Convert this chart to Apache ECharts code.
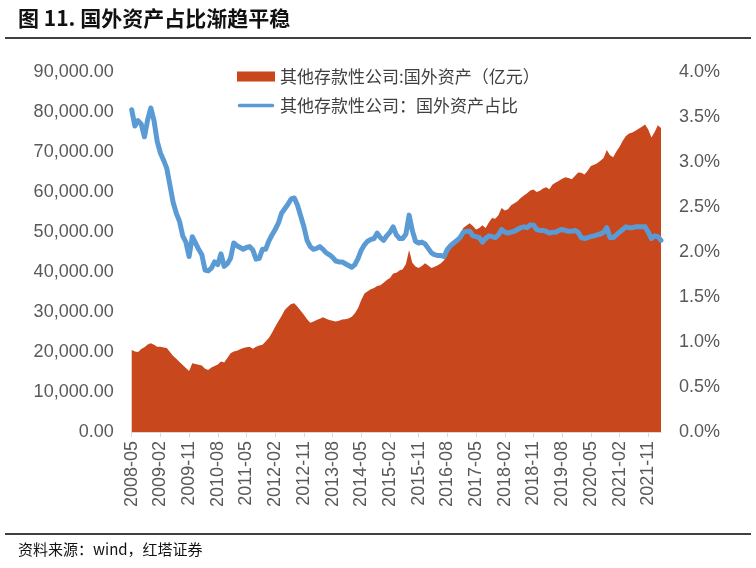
<!DOCTYPE html>
<html>
<head>
<meta charset="utf-8">
<script src="https://cdn.jsdelivr.net/npm/echarts@6/dist/echarts.min.js"></script>
<style>
  html, body { margin: 0; padding: 0; background: #fff; }
  #chart { width: 756px; height: 568px; }
</style>
</head>
<body>
<div id="chart"></div>
<script>
// months 2008-05 .. 2022-03
const months = [];
for (let y = 2008, m = 5; months.length < 167; m++) {
    if (m > 12) { m = 1; y++; }
    months.push(y + '-' + (m < 10 ? '0' + m : m));
}

// 其他存款性公司:国外资产（亿元）
const foreignAssets = [
    20500, 20100, 20000, 20750, 21200, 21900, 22200, 21800, 21300, 21300,
    21100, 21000, 20000, 19000, 18300, 17500, 16750, 16000, 15250, 17200,
    17000, 16800, 16600, 15800, 15500, 16100, 16500, 16900, 17600, 17400,
    18500, 19700, 20100, 20300, 20700, 21000, 21200, 21300, 20800, 21300,
    21600, 21800, 22600, 23500, 24800, 26300, 27700, 29000, 30500, 31300,
    32000, 32200, 31300, 30300, 29300, 28200, 27300, 27600, 28000, 28300,
    28700, 28300, 28000, 27800, 27600, 27800, 28100, 28200, 28400, 28800,
    29700, 31000, 33000, 34600, 35200, 35700, 36000, 36500, 36700, 37300,
    38000, 38500, 39600, 39800, 40400, 40700, 42000, 45500, 42300, 41400,
    41000, 41500, 42200, 41600, 41000, 41300, 41700, 42200, 43000, 44600,
    45800, 47200, 48400, 49500, 51000, 51600, 52200, 51500, 50600, 51000,
    51700, 51000, 52400, 53500, 53300, 54200, 56000, 55400, 55700, 56700,
    57200, 57700, 58500, 59100, 59700, 60400, 60600, 60000, 60300, 60900,
    61200, 60700, 61900, 62400, 62800, 63300, 63700, 63500, 63200, 64000,
    64900, 64800, 64400, 65300, 66500, 66800, 67200, 67800, 68500, 70500,
    69200, 68700, 70100, 71300, 72800, 74000, 74600, 74900, 75300, 75800,
    76300, 76900, 75600, 73600, 75000, 76700, 76000
];

// 其他存款性公司：国外资产占比（%）
const assetShare = [
    3.58, 3.40, 3.46, 3.42, 3.28, 3.47, 3.60, 3.46, 3.23, 3.10,
    3.02, 2.93, 2.74, 2.55, 2.43, 2.34, 2.18, 2.11, 1.95, 2.17,
    2.10, 2.03, 1.97, 1.80, 1.79, 1.82, 1.89, 1.86, 1.98, 1.84,
    1.87, 1.93, 2.10, 2.07, 2.05, 2.03, 2.05, 2.06, 2.02, 1.92,
    1.93, 2.03, 2.03, 2.12, 2.19, 2.25, 2.32, 2.43, 2.48, 2.53,
    2.59, 2.60, 2.52, 2.40, 2.28, 2.13, 2.06, 2.03, 2.04, 2.06,
    2.03, 1.99, 1.97, 1.94, 1.90, 1.89, 1.89, 1.87, 1.85, 1.83,
    1.86, 1.93, 2.02, 2.08, 2.12, 2.14, 2.15, 2.21, 2.16, 2.13,
    2.18, 2.22, 2.28, 2.19, 2.15, 2.15, 2.20, 2.41, 2.24, 2.12,
    2.10, 2.11, 2.09, 2.04, 1.99, 1.97, 1.96, 1.96, 1.95, 2.03,
    2.07, 2.10, 2.13, 2.16, 2.22, 2.23, 2.23, 2.18, 2.17, 2.16,
    2.11, 2.15, 2.18, 2.17, 2.16, 2.19, 2.25, 2.22, 2.21, 2.22,
    2.23, 2.25, 2.27, 2.28, 2.27, 2.30, 2.30, 2.25, 2.24, 2.24,
    2.23, 2.21, 2.22, 2.22, 2.24, 2.25, 2.24, 2.23, 2.23, 2.24,
    2.22, 2.16, 2.15, 2.16, 2.17, 2.18, 2.19, 2.20, 2.22, 2.27,
    2.16, 2.16, 2.19, 2.22, 2.25, 2.28, 2.27, 2.27, 2.28, 2.28,
    2.28, 2.28, 2.22, 2.15, 2.18, 2.17, 2.13
];

const areaColor = '#C9471D';
const lineColor = '#5B9BD5';
const labelColor = '#595959';
const latin = 'Liberation Sans, Arial, sans-serif';
const cjk = '"Noto Sans CJK SC", sans-serif';

// thick rounded bar for the line legend, padded with tiny dots to keep a 38x10 box
const lineIcon = 'path://M0,0L0.01,0L0.01,0.01Z M2.5,3.2L35.5,3.2A1.8,1.8,0,0,1,35.5,6.8L2.5,6.8A1.8,1.8,0,0,1,2.5,3.2Z M37.99,9.99L38,9.99L38,10Z';

const chart = echarts.init(document.getElementById('chart'));

chart.setOption({
    animation: false,
    graphic: [
        { type: 'text', left: 18, top: 8,
          style: { text: '图 11. 国外资产占比渐趋平稳', fill: '#111', font: 'bold 21px ' + cjk } },
        { type: 'line', shape: { x1: 5, y1: 38, x2: 751, y2: 38 },
          style: { stroke: '#000', lineWidth: 1.5 } },
        { type: 'line', shape: { x1: 5, y1: 534, x2: 751, y2: 534 },
          style: { stroke: '#000', lineWidth: 1.5 } },
        { type: 'text', left: 18, top: 542,
          style: { text: '资料来源：wind，红塔证券', fill: '#111', font: '15px ' + cjk } }
    ],
    legend: {
        orient: 'vertical',
        left: 232,
        top: 63,
        itemWidth: 38,
        itemHeight: 10,
        itemGap: 12,
        textStyle: { color: '#404040', fontSize: 17, fontFamily: cjk },
        data: [
            { name: '其他存款性公司:国外资产（亿元）', icon: 'rect' },
            { name: '其他存款性公司：国外资产占比', icon: lineIcon }
        ]
    },
    grid: { left: 131.7, right: 95, top: 72, bottom: 136 },
    xAxis: {
        type: 'category',
        data: months,
        boundaryGap: false,
        axisLine: { lineStyle: { color: '#D9D9D9', width: 1 } },
        axisTick: { interval: 8, length: 5, lineStyle: { color: '#D9D9D9' } },
        axisLabel: {
            interval: 8, rotate: 90, margin: 9,
            color: labelColor, fontSize: 18, fontFamily: latin
        }
    },
    yAxis: [
        {
            type: 'value', min: 0, max: 90000, interval: 10000,
            splitLine: { show: false },
            axisLine: { show: false }, axisTick: { show: false },
            axisLabel: {
                margin: 18, color: labelColor, fontSize: 18, fontFamily: latin,
                formatter: v => v.toLocaleString('en-US', { minimumFractionDigits: 2, maximumFractionDigits: 2 })
            }
        },
        {
            type: 'value', min: 0, max: 4, interval: 0.5,
            splitLine: { show: false },
            axisLine: { show: false }, axisTick: { show: false },
            axisLabel: {
                margin: 18, color: labelColor, fontSize: 18, fontFamily: latin,
                formatter: v => v.toFixed(1) + '%'
            }
        }
    ],
    series: [
        {
            name: '其他存款性公司:国外资产（亿元）',
            type: 'line',
            yAxisIndex: 0,
            data: foreignAssets,
            symbol: 'none',
            color: areaColor,
            lineStyle: { width: 0 },
            areaStyle: { color: areaColor, opacity: 1 }
        },
        {
            name: '其他存款性公司：国外资产占比',
            type: 'line',
            yAxisIndex: 1,
            data: assetShare,
            symbol: 'none',
            color: lineColor,
            lineStyle: { width: 5, color: lineColor, cap: 'round', join: 'round' }
        }
    ]
});
</script>
</body>
</html>
